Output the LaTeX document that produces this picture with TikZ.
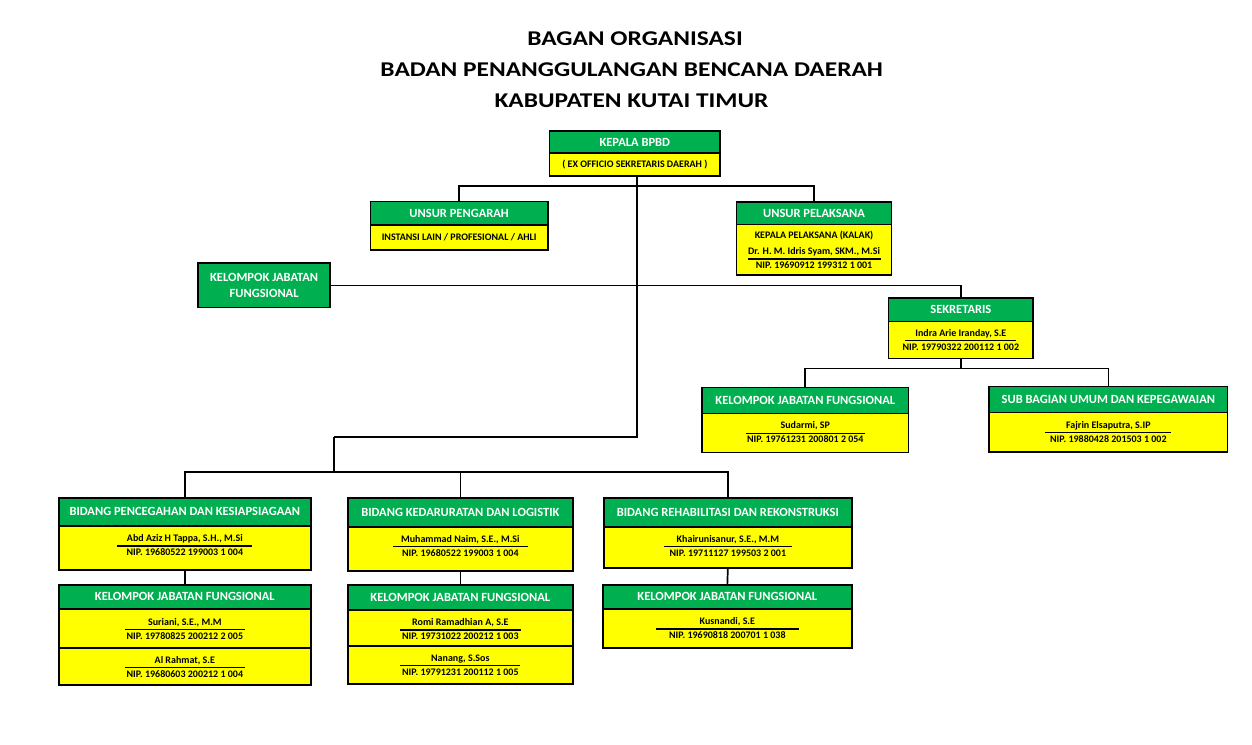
\documentclass[tikz,border=0pt]{standalone}
\usepackage{fontspec}
\setmainfont{Carlito}
\usetikzlibrary{calc}
\definecolor{hdrgreen}{RGB}{0,176,80}
\definecolor{bodyyellow}{RGB}{255,255,0}
\newcommand{\orgbox}[7]{%
  \node[hdr, minimum width={#3-#2}, minimum height={#5-#4}] (#1H) at (#2,#4) {#7};
  \node[bdy, minimum width={#3-#2}, minimum height={#6-#5}] (#1B) at (#2,#5) {};}
\newcommand{\extrabody}[5]{%
  \node[bdy, minimum width={#3-#2}, minimum height={#5-#4}] (#1) at (#2,#4) {};}
\newcommand{\persontxt}[5]{%
  \node[txt, anchor=base] at ($(#1.north)+(0,#2+16.5)$) {#3};
  \draw[uline] ($(#1.north)+(-#5/2,#2+21)$) -- ++(#5,0);
  \node[txt, anchor=base] at ($(#1.north)+(0,#2+30.5)$) {#4};}
\begin{document}
\begin{tikzpicture}[x=1pt,y=-1pt,
  box/.style={draw=black, line width=1.7pt, inner sep=0pt, anchor=north west},
  hdr/.style={box, fill=hdrgreen, text=white, font=\bfseries\fontsize{12.5}{15}\selectfont},
  bdy/.style={box, fill=bodyyellow},
  txt/.style={font=\bfseries\fontsize{10}{12}\selectfont, inner sep=0pt},
  uline/.style={line width=1.4pt},
  conn/.style={line width=1.7pt},
  ttl/.style={font=\bfseries\fontsize{21}{25}\selectfont, inner sep=0pt, anchor=base, xscale=1.21, transform shape}]
\useasboundingbox (0,0) rectangle (1252,744);
% title
\node[ttl] (t1) at (635,45) {BAGAN ORGANISASI};
\node[ttl] (t2) at (631.7,76.7) {BADAN PENANGGULANGAN BENCANA DAERAH};
\node[ttl] (t3) at (631.5,107.3) {KABUPATEN KUTAI TIMUR};
% junction points
\coordinate (jL) at (334.3,437.3);
\coordinate (jB) at (334.3,471.7);
% boxes
\orgbox{kp}{548.7}{719.2}{130}{152.3}{175}{KEPALA BPBD}
\node[txt] at (kpB.center) {( EX OFFICIO SEKRETARIS DAERAH )};
\orgbox{up}{369.6}{547}{200.5}{224}{249}{UNSUR PENGARAH}
\node[txt] at (upB.center) {INSTANSI LAIN / PROFESIONAL / AHLI};
\orgbox{pl}{735.7}{890.7}{201}{223.5}{274.3}{UNSUR PELAKSANA}
\node[txt, anchor=base] at ($(plB.north)+(0,14.8)$) {KEPALA PELAKSANA (KALAK)};
\persontxt{plB}{14.5}{Dr. H. M. Idris Syam, SKM., M.Si}{NIP. 19690912 199312 1 001}{133}
\node[hdr, align=center, minimum width=132pt, minimum height=44.4pt] (kj) at (197.3,262.3)
  {KELOMPOK JABATAN\\[0.5pt]FUNGSIONAL};
\orgbox{sk}{887.7}{1032.3}{297.3}{320.7}{357.5}{SEKRETARIS}
\persontxt{skB}{-1}{Indra Arie Iranday, S.E}{NIP. 19790322 200112 1 002}{111}
\orgbox{ks}{701.2}{907.7}{386.7}{412.7}{451.7}{KELOMPOK JABATAN FUNGSIONAL}
\persontxt{ksB}{-0.5}{Sudarmi, SP}{NIP. 19761231 200801 2 054}{119}
\orgbox{sb}{988.3}{1226.7}{385.7}{411.7}{451}{SUB BAGIAN UMUM DAN KEPEGAWAIAN}
\persontxt{sbB}{0}{Fajrin Elsaputra, S.IP}{NIP. 19880428 201503 1 002}{126}
% bidang
\orgbox{b1}{58}{310}{497}{525}{569}{BIDANG PENCEGAHAN DAN KESIAPSIAGAAN}
\persontxt{b1B}{0}{Abd Aziz H Tappa, S.H., M.Si}{NIP. 19680522 199003 1 004}{135}
\orgbox{b2}{347}{572}{497}{526}{570}{BIDANG KEDARURATAN DAN LOGISTIK}
\persontxt{b2B}{-0.5}{Muhammad Naim, S.E., M.Si}{NIP. 19680522 199003 1 004}{135}
\orgbox{b3}{603}{851}{497}{526}{567}{BIDANG REHABILITASI DAN REKONSTRUKSI}
\persontxt{b3B}{-0.5}{Khairunisanur, S.E., M.M}{NIP. 19711127 199503 2 001}{128}
% kelompok
\orgbox{k1}{58}{310}{584}{608}{647}{KELOMPOK JABATAN FUNGSIONAL}
\persontxt{k1B}{0.5}{Suriani, S.E., M.M}{NIP. 19780825 200212 2 005}{120}
\extrabody{k1C}{58}{310}{647}{684}
\persontxt{k1C}{-0.5}{Al Rahmat, S.E}{NIP. 19680603 200212 1 004}{120}
\orgbox{k2}{347}{572}{584}{609}{645}{KELOMPOK JABATAN FUNGSIONAL}
\persontxt{k2B}{0}{Romi Ramadhian A, S.E}{NIP. 19731022 200212 1 003}{121}
\extrabody{k2C}{347}{572}{645}{683}
\persontxt{k2C}{-0.5}{Nanang, S.Sos}{NIP. 19791231 200112 1 005}{120}
\orgbox{k3}{602}{851}{584}{608}{647}{KELOMPOK JABATAN FUNGSIONAL}
\persontxt{k3B}{0}{Kusnandi, S.E}{NIP. 19690818 200701 1 038}{143}
% connectors
\draw[conn] (upH.north) -- ++(0,-14.8) -| (plH.north);
\draw[conn] ([xshift=2.5pt]kpB.south) |- (jL);
\draw[conn] (jL) -- (jB);
\draw[conn] (b1H.north) |- (jB) -| (b3H.north);
\draw[conn] (b2H.north) -- (b2H.north |- jB);
\draw[conn] (kj.east) -| (skH.north);
\draw[conn] (skB.south) -- ++(0,9.2) -| (ksH.north);
\draw[conn] (skB.south) -- ++(0,9.2) -| (sbH.north);
\draw[conn] (b1B.south) -- (k1H.north);
\draw[conn] (b2B.south) -- (k2H.north);
\draw[conn] (b3B.south) -- (k3H.north);
\end{tikzpicture}
\end{document}
